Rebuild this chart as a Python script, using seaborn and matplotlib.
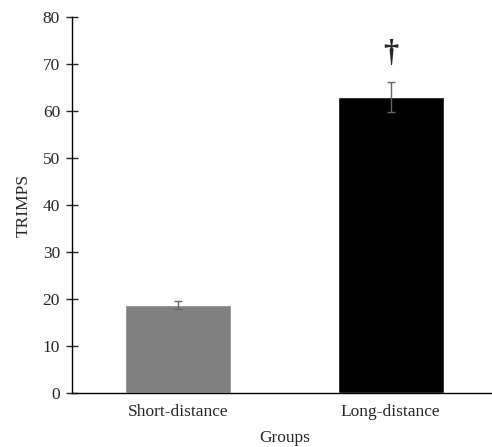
import matplotlib
matplotlib.use("Agg")
import matplotlib.pyplot as plt
import pandas as pd
import seaborn as sns

groups = ["Short-distance", "Long-distance"]
trimps = [18.7, 62.9]
sem = [0.9, 3.2]
bar_colors = ["#808080", "#000000"]
marks = ["", "\u2020"]

sns.set_theme(style="white")
plt.rcParams["font.family"] = ["Liberation Serif", "DejaVu Serif"]

df = pd.DataFrame({"group": groups, "trimps": trimps})

fig = plt.figure(figsize=(4.92, 4.47), dpi=100)
ax = fig.add_axes([0.146, 0.121, 0.864, 0.841])

sns.barplot(data=df, x="group", y="trimps", hue="group", palette=bar_colors,
            width=0.5, legend=False, ax=ax, errorbar=None)
ax.errorbar(range(len(groups)), trimps, yerr=sem, fmt="none",
            ecolor="#666666", elinewidth=1, capsize=3, capthick=1)
for i, (v, e, m) in enumerate(zip(trimps, sem, marks)):
    if m:
        ax.text(i, v + e + 3.0, m, ha="center", va="bottom", fontsize=22,
                fontweight="bold")

ax.set_ylim(0, 80)
ax.set_xlim(-0.5, 1.5)
ax.set_yticks(range(0, 81, 10))
ax.set_ylabel("TRIMPS", fontsize=12.5, labelpad=8)
ax.set_xlabel("Groups", fontsize=12.5, labelpad=7)
ax.tick_params(axis="y", direction="inout", length=9, width=1, labelsize=12.5,
               left=True, pad=4)
ax.tick_params(axis="x", length=0, labelsize=12.5, pad=8)
for s in ["top", "right"]:
    ax.spines[s].set_visible(False)
for s in ["left", "bottom"]:
    ax.spines[s].set_color("black")
    ax.spines[s].set_linewidth(1)

fig.savefig("out.png", dpi=100)
